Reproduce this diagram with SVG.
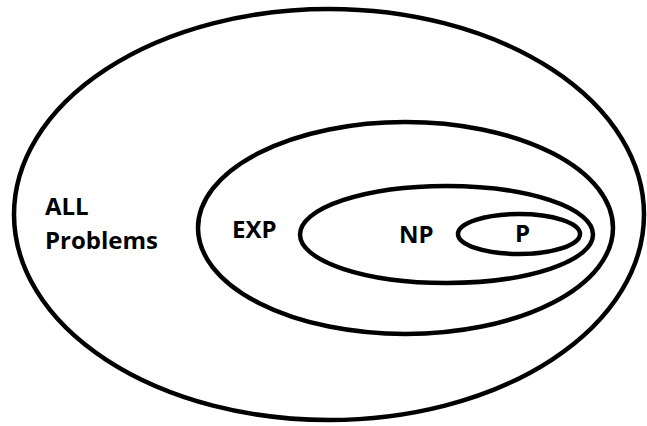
<svg xmlns="http://www.w3.org/2000/svg" width="647" height="426" viewBox="0 0 647 426">
  <style>
    .set { fill: none; stroke: #000; stroke-width: 4.5; }
    .lbl { font-family: "Open Sans", "Liberation Sans", sans-serif; font-weight: bold; font-size: 24px; fill: #000; }
  </style>
  <rect width="647" height="426" fill="#fff"/>
  <!-- nested sets: ALL ⊃ EXP ⊃ NP ⊃ P -->
  <g id="all">
    <ellipse class="set" cx="329" cy="214.5" rx="315" ry="205.5"/>
    <text class="lbl" x="45" y="215">ALL</text>
    <text class="lbl" x="45" y="249">Problems</text>
  </g>
  <g id="exp">
    <ellipse class="set" cx="405.5" cy="228" rx="207.5" ry="106"/>
    <text class="lbl" x="232" y="238">EXP</text>
  </g>
  <g id="np">
    <ellipse class="set" cx="446.5" cy="234.5" rx="146.5" ry="48.5"/>
    <text class="lbl" x="399" y="243">NP</text>
  </g>
  <g id="p">
    <ellipse class="set" cx="519" cy="234" rx="61" ry="20"/>
    <text class="lbl" x="515" y="242">P</text>
  </g>
  <g id="connectors"/>
</svg>
